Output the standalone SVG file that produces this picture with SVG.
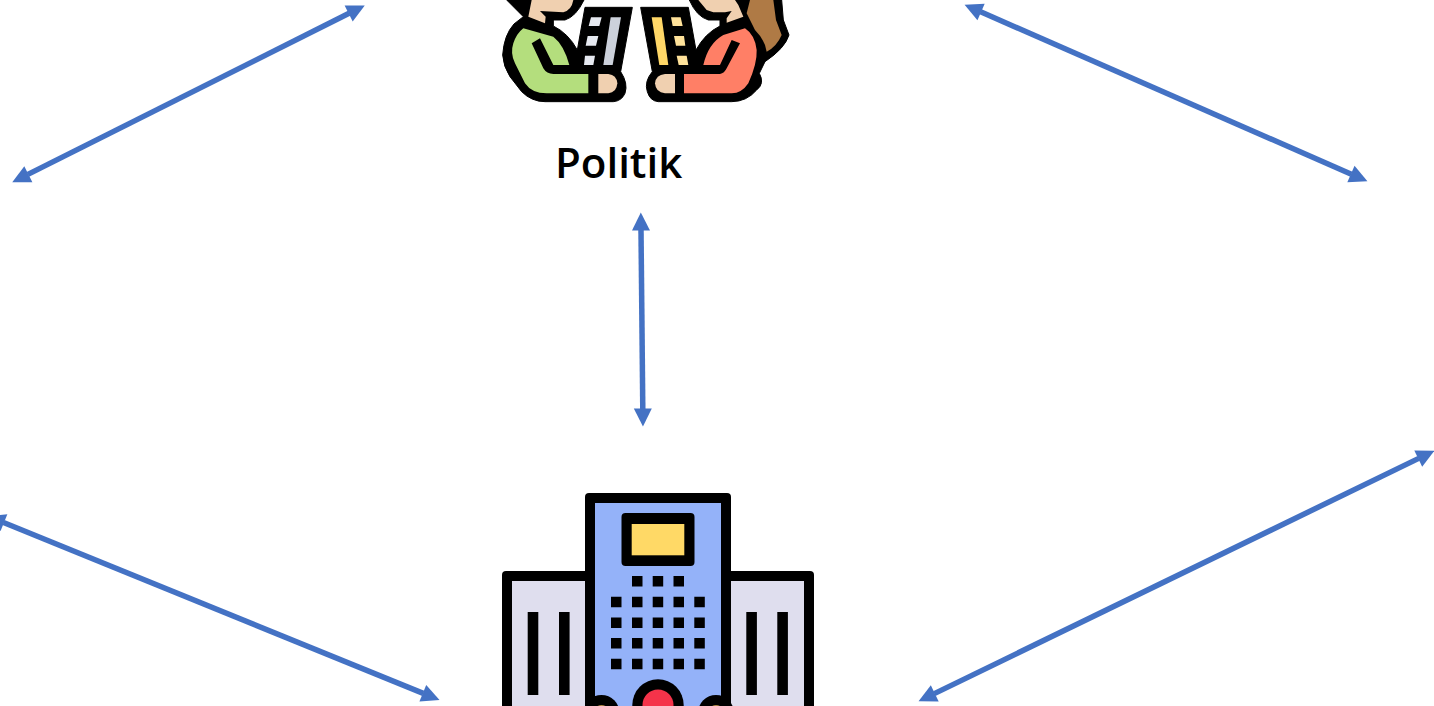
<svg xmlns="http://www.w3.org/2000/svg" width="1434" height="706" viewBox="0 0 1434 706">
<style>
.link{stroke:#4472c4;stroke-width:5.5;fill:none;marker-start:url(#head);marker-end:url(#head)}
.k{fill:#000}
.skin{fill:#f0d0b0}
.wing{fill:#dfdeee}
.label{font-family:"Open Sans","Noto Sans",sans-serif;font-weight:600;font-size:42px;fill:#000}
</style>
<defs>
<marker id="head" markerUnits="userSpaceOnUse" markerWidth="18" markerHeight="19" refX="0" refY="9.5" orient="auto-start-reverse" overflow="visible">
<path d="M-0.5 0.5L17.5 9.5L-0.5 18.5Z" fill="#4472c4"/>
</marker>
</defs>
<rect width="1434" height="706" fill="#fff"/>
<g id="connectors">
<line class="link" x1="349.1" y1="13.3" x2="27.9" y2="174.4"/>
<line class="link" x1="980.6" y1="11.8" x2="1351.4" y2="174.2"/>
<line class="link" x1="641" y1="230" x2="642.8" y2="409"/>
<line class="link" x1="3.5" y1="522.5" x2="423.3" y2="693.4"/>
<line class="link" x1="1418.7" y1="458.4" x2="934.3" y2="693.6"/>
</g>
<g id="politik">
<g transform="translate(490 0) scale(.33333)">
<path class="k" stroke="#000" stroke-width="3" stroke-linejoin="round" d="M50 0L85 35L100 50L72 72Q42 105 38 165Q40 200 60 230L95 275Q125 305 165 305L370 305Q395 303 405 280Q415 250 392 215L427 22L285 22L262 150Q235 100 190 78L190 60L225 60Q258 50 282 0Z"/>
<path class="skin" d="M125 0L115 50L165 70L167 50L150 33L220 37Q245 30 250 0Z"/>
<path d="M100 85L190 110Q222 135 238 195L190 195L150 115L125 130L160 205Q170 222 190 222L295 222L295 280L170 280Q125 280 105 250L75 190Q60 160 70 130Q80 100 100 85Z" fill="#b4de7d"/>
<path fill="#e6e9f0" d="M303 52L335 52L328 78L296 78ZM293 108L325 108L318 137L287 137ZM285 167L315 167L310 195L282 195Z"/>
<path fill="#ccd1db" d="M362 52L393 52L368 195L340 195Z"/>
<path class="skin" d="M325 222L355 222Q380 225 382 250Q380 278 355 280L325 280Z"/>
<path class="k" stroke="#000" stroke-width="3" stroke-linejoin="round" d="M452 22L595 22L618 150Q645 100 690 78L690 60L655 60Q620 50 598 0L875 0L880 60L897 105Q885 145 825 185L808 220Q825 250 800 270Q770 305 725 305L505 305Q480 303 472 275Q462 245 487 215Z"/>
<path class="skin" d="M625 0L650 30L670 37L705 37L725 33L710 55L710 68L760 50L745 15L735 0Z"/>
<path fill="#af7a45" d="M780 0L850 0L858 60L875 105Q860 140 830 155Q825 120 795 90L770 40Z"/>
<path fill="#ff7f66" d="M765 85Q795 105 800 150Q802 190 775 250Q755 280 725 280L582 280L582 222L690 222Q703 220 710 205L750 130L725 120L690 195L640 195Q655 130 700 105Z"/>
<path fill="#ffd767" d="M485 52L515 52L535 195L508 195Z"/>
<path fill="#ffe29a" d="M543 52L572 52L578 78L548 78ZM552 108L582 108L586 137L558 137ZM560 167L590 167L595 195L566 195Z"/>
<path class="skin" d="M555 222L525 222Q497 225 495 250Q497 278 525 280L555 280Z"/>
</g>
<text class="label" x="555" y="178">Politik</text>
</g>
<g id="building">
<rect class="k" x="502" y="571" width="312" height="150" rx="4"/>
<rect class="wing" x="512" y="581" width="292" height="140"/>
<rect class="k" x="585" y="493" width="146" height="230" rx="4"/>
<rect x="595" y="503" width="126" height="220" fill="#94b2f9"/>
<rect class="k" x="621.5" y="513" width="73" height="53" rx="4"/>
<rect x="631.7" y="524" width="52.6" height="31.3" fill="#ffd966"/>
<path class="k" d="M632 576h10.5v10.5h-10.5zM652.7 576h10.5v10.5h-10.5zM673.5 576h10.5v10.5h-10.5z"/>
<path class="k" d="M611 596.7h10.5v10.5h-10.5zM632 596.7h10.5v10.5h-10.5zM652.7 596.7h10.5v10.5h-10.5zM673.5 596.7h10.5v10.5h-10.5zM694.3 596.7h10.5v10.5h-10.5z"/>
<path class="k" d="M611 617.4h10.5v10.5h-10.5zM632 617.4h10.5v10.5h-10.5zM652.7 617.4h10.5v10.5h-10.5zM673.5 617.4h10.5v10.5h-10.5zM694.3 617.4h10.5v10.5h-10.5z"/>
<path class="k" d="M611 638h10.5v10.5h-10.5zM632 638h10.5v10.5h-10.5zM652.7 638h10.5v10.5h-10.5zM673.5 638h10.5v10.5h-10.5zM694.3 638h10.5v10.5h-10.5z"/>
<path class="k" d="M611 658.7h10.5v10.5h-10.5zM632 658.7h10.5v10.5h-10.5zM652.7 658.7h10.5v10.5h-10.5zM673.5 658.7h10.5v10.5h-10.5zM694.3 658.7h10.5v10.5h-10.5z"/>
<path class="k" d="M527.7 612h10.6v83h-10.6zM559 612h10.6v83h-10.6zM746.3 612h10.6v83h-10.6zM777.3 612h10.6v83h-10.6z"/>
<circle class="k" cx="658" cy="705" r="25.7"/>
<circle cx="658" cy="705" r="15.5" fill="#f5334a"/>
<circle class="k" cx="601.5" cy="713" r="18"/>
<circle cx="601.5" cy="713" r="8" fill="#b08a45"/>
<circle class="k" cx="716" cy="713" r="18"/>
<circle cx="716" cy="713" r="8" fill="#b08a45"/>
</g>
</svg>
